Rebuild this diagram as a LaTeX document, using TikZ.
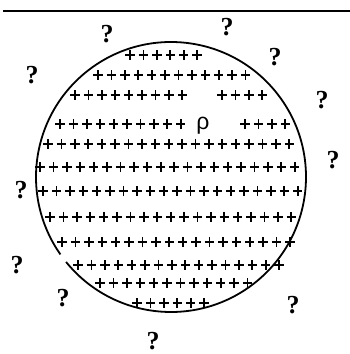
\documentclass[tikz,border=0pt]{standalone}
\usepackage{fontspec}
\setmainfont{Liberation Serif}
\newfontfamily\rhofont{Liberation Sans}
\usepackage{tikz}
\usetikzlibrary{positioning,calc}
\tikzset{
  plusmark/.pic={\draw[line width=1.8pt] (-4.7,0) -- (4.7,0) (0,-4.7) -- (0,4.7);},
  qmark/.style={inner sep=0pt, font=\bfseries\fontsize{26}{26}\selectfont}
}

\begin{document}
\begin{tikzpicture}[x=1pt,y=1pt]
\useasboundingbox (0,0) rectangle (350,354);
\draw[line width=2pt] (3,343) -- (350,343);
% the charged sphere
\coordinate (c) at (171,177);
\draw[line width=1.8pt] (c) ++(219:135) arc[start angle=219, end angle=575, radius=135];
\foreach \y/\xa/\n in {299/130/6, 279/98/12, 259/75/9, 259/222/4, 230/60/10, 230/245/4,
    210/48/19, 187/40/20, 163/43/20, 137/50/19, 112/62/18, 89/78/16, 71/100/12, 51/137/6} {
  \foreach \i in {1,...,\n}
    \pic at ({\xa+(\i-1)*13.4},\y) {plusmark};
}
\node[inner sep=0pt, font=\rhofont\fontsize{23}{23}\selectfont] (rho) at (203,228) {ρ};
% unknown charges outside
\foreach \x/\y [count=\k] in {107/320, 227/327, 32/279, 275/297, 322/254, 333/194,
    21/164, 17/89, 63/56, 293/49, 153/13}
  \node[qmark] (q\k) at (\x,\y) {?};
\end{tikzpicture}
\end{document}
